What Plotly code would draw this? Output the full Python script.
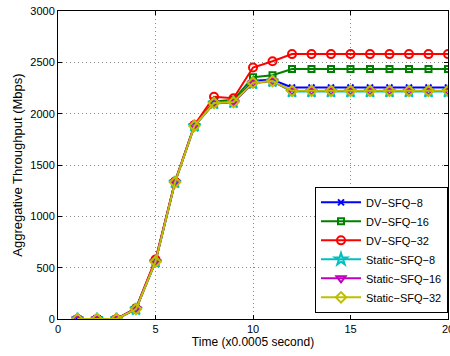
import plotly.graph_objects as go

time = list(range(1, 21))
dv8 = [0, 0, 0, 100, 565, 1335, 1885, 2110, 2110, 2320, 2330] + [2255] * 9
dv16 = [0, 0, 0, 100, 565, 1335, 1885, 2120, 2135, 2355, 2375] + [2435] * 9
dv32 = [0, 0, 0, 105, 580, 1340, 1890, 2165, 2150, 2450, 2510] + [2580] * 9
st8 = [0, 0, 0, 95, 555, 1330, 1880, 2100, 2110, 2295, 2315] + [2215] * 9
st16 = [0, 0, 0, 98, 560, 1332, 1882, 2102, 2112, 2300, 2318] + [2220] * 9
st32 = [0, 0, 0, 97, 558, 1331, 1881, 2103, 2113, 2302, 2318] + [2222] * 9

series = [
    ("DV\u2212SFQ\u22128", dv8, "#0000ff", "x-thin-open", 6),
    ("DV\u2212SFQ\u221216", dv16, "#008000", "square-open", 6),
    ("DV\u2212SFQ\u221232", dv32, "#ff0000", "circle-open", 8),
    ("Static\u2212SFQ\u22128", st8, "#00bfbf", "star-open", 9),
    ("Static\u2212SFQ\u221216", st16, "#bf00bf", "triangle-down-open", 8),
    ("Static\u2212SFQ\u221232", st32, "#bfbf00", "diamond-open", 8),
]

fig = go.Figure()
for name, vals, color, sym, size in series:
    fig.add_trace(go.Scatter(
        x=time, y=vals, name=name, mode="lines+markers",
        line=dict(color=color, width=2),
        marker=dict(symbol=sym, size=size, color=color, line=dict(color=color, width=2)),
    ))

axis_common = dict(
    showline=True, linecolor="black", linewidth=1, mirror="allticks",
    ticks="inside", ticklen=4, tickcolor="black",
    showgrid=True, gridcolor="#888888", griddash="1px,3px", gridwidth=1,
    zeroline=False, tickfont=dict(family="Liberation Sans, Arial", size=11, color="black"),
    ticklabeloverflow="allow",
)

fig.update_layout(
    width=450, height=356,
    margin=dict(l=58, r=2, t=11, b=37, autoexpand=False),
    paper_bgcolor="white", plot_bgcolor="white",
    font=dict(family="Liberation Sans, Arial", size=10, color="black"),
    xaxis=dict(range=[0, 20], tickvals=[0, 5, 10, 15, 20],
               title=dict(text="Time (x0.0005 second)", standoff=3, font=dict(size=12)),
               **axis_common),
    yaxis=dict(range=[0, 3000], tickvals=[0, 500, 1000, 1500, 2000, 2500, 3000],
               title=dict(text="Aggregative Throughput (Mbps)", standoff=4, font=dict(size=13)),
               **axis_common),
    legend=dict(x=1, y=0.02, xanchor="right", yanchor="bottom",
                bgcolor="white", bordercolor="black", borderwidth=1,
                font=dict(size=11), tracegroupgap=0, itemwidth=40),
    showlegend=True,
)

fig.write_html("out.html")
